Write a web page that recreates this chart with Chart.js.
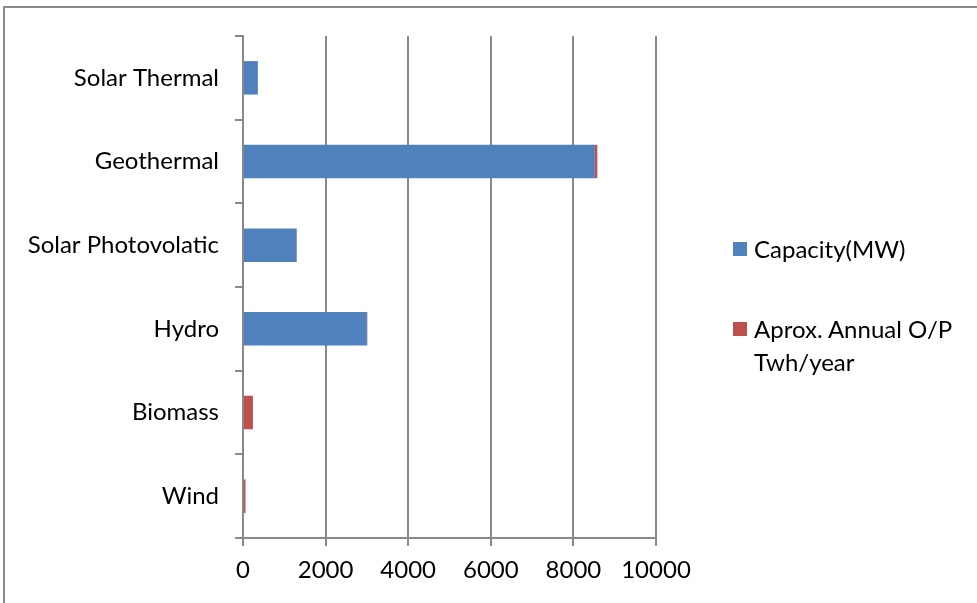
<!DOCTYPE html>
<html lang="en">
<head>
  <meta charset="UTF-8">
  <title>Capacity vs Annual Output</title>
  <script src="https://cdn.jsdelivr.net/npm/chart.js"></script>
  <style>
    body { margin: 0; background: #fff; }
    #wrap { position: relative; width: 977px; height: 603px; overflow: hidden; }
    #frame { position: absolute; left: 3px; top: 6px; width: 1100px; height: 700px; border: 2px solid #898989; }
    #legenda { position: absolute; left: 733px; top: 232px; font-family: Lato, sans-serif; font-size: 24px; color: #000; }
    .item { position: relative; padding-left: 21px; line-height: 33px; }
    .cor { position: absolute; left: 0; top: 10px; width: 14px; height: 14px; }
  </style>
</head>
<body>
  <div id="wrap">
    <div id="frame"></div>
    <canvas id="grafico" width="977" height="603"></canvas>
    <div id="legenda"></div>
  </div>
  <script>
    const categorias = ['Solar Thermal', 'Geothermal', 'Solar Photovolatic', 'Hydro', 'Biomass', 'Wind'];
    const capacidade = [360, 8520, 1300, 3000, 0, 0];
    const producao = [2, 60, 3, 10, 240, 60];
    const ticksX = [0, 2000, 4000, 6000, 8000, 10000];

    const series = [
      { label: 'Capacity(MW)', cor: '#4F81BD', data: capacidade },
      { label: 'Aprox. Annual O/P Twh/year', cor: '#C0504D', data: producao }
    ];

    const fonte = { family: 'Lato, sans-serif', size: 24 };

    new Chart(document.getElementById('grafico'), {
      type: 'bar',
      data: {
        labels: categorias,
        datasets: series.map(s => ({
          label: s.label,
          data: s.data,
          backgroundColor: s.cor,
          barPercentage: 0.4,
          categoryPercentage: 1
        }))
      },
      options: {
        indexAxis: 'y',
        responsive: false,
        animation: false,
        layout: { padding: { left: 0, top: 36, right: 321, bottom: 0 } },
        plugins: { legend: { display: false }, tooltip: { enabled: false } },
        scales: {
          x: {
            stacked: true,
            min: 0,
            max: 10000,
            afterBuildTicks: s => { s.ticks = ticksX.map(v => ({ value: v })); },
            afterFit: s => { s.height = 65; },
            border: { color: '#898989', width: 2 },
            grid: { color: '#898989', lineWidth: 2, tickLength: 8 },
            ticks: { font: fonte, color: '#000', padding: 10, maxRotation: 0, callback: v => String(v) }
          },
          y: {
            stacked: true,
            afterFit: s => { s.width = 243; },
            border: { color: '#898989', width: 2 },
            grid: { display: true, drawOnChartArea: false, offset: true, color: '#898989', lineWidth: 2, tickLength: 8 },
            ticks: { font: fonte, color: '#000', padding: 16 }
          }
        }
      }
    });

    document.getElementById('legenda').innerHTML = series.map((s, i) =>
      `<div class="item" style="margin-bottom:${i === 0 ? 47 : 0}px"><span class="cor" style="background:${s.cor}"></span>${s.label.replace(' Twh', '<br>Twh')}</div>`
    ).join('');
  </script>
</body>
</html>
